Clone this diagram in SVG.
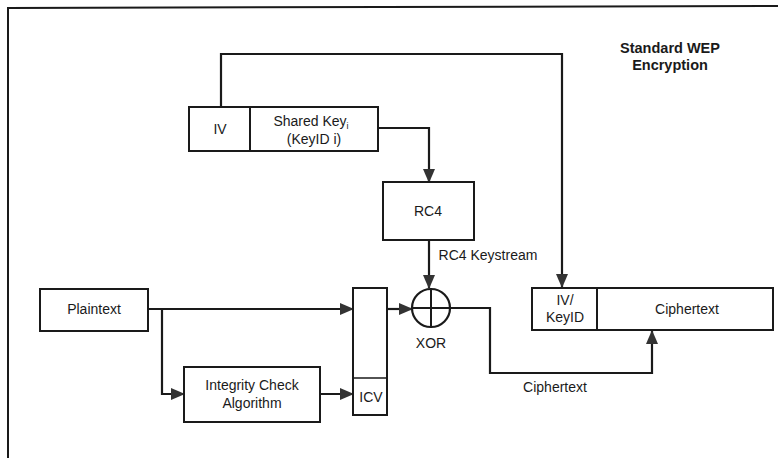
<svg xmlns="http://www.w3.org/2000/svg" width="778" height="458" viewBox="0 0 778 458">
<defs>
<marker id="ah" viewBox="0 0 14 12" refX="13" refY="6" markerWidth="14" markerHeight="12" markerUnits="userSpaceOnUse" orient="auto">
<path d="M0,0 L14,6 L0,12 Z" fill="#333"/>
</marker>
</defs>
<style>
.box{fill:#fff;stroke:#1a1a1a;stroke-width:2}
.ln{fill:none;stroke:#1a1a1a;stroke-width:2.2}
.t{font-family:"Liberation Sans",Arial,sans-serif;font-size:14px;fill:#1a1a1a;text-anchor:middle}
.tb{font-family:"Liberation Sans",Arial,sans-serif;font-size:14.5px;font-weight:bold;fill:#1a1a1a;text-anchor:middle}
</style>
<rect width="778" height="458" fill="#fff"/>
<g id="frame">
<path d="M8,458 L8,8 L778,6" fill="none" stroke="#1a1a1a" stroke-width="2"/>
</g>
<g id="title">
<text class="tb" x="670" y="53">Standard WEP</text>
<text class="tb" x="670" y="70">Encryption</text>
</g>
<g id="connectors">
<path class="ln" d="M221,107 L221,54 L562,54 L562,287" marker-end="url(#ah)"/>
<path class="ln" d="M378,128 L429,128 L429,182" marker-end="url(#ah)"/>
<path class="ln" d="M429,240 L429,288" marker-end="url(#ah)"/>
<path class="ln" d="M148,309 L353,309" marker-end="url(#ah)"/>
<path class="ln" d="M162,309 L162,394 L184,394" marker-end="url(#ah)"/>
<path class="ln" d="M320,394 L353,394" marker-end="url(#ah)"/>
<path class="ln" d="M387,309 L412,309" marker-end="url(#ah)"/>
<path class="ln" d="M450,308 L490,308 L490,373 L652,373 L652,331" marker-end="url(#ah)"/>
<text class="t" x="488" y="260">RC4 Keystream</text>
<text class="t" x="555" y="392">Ciphertext</text>
</g>
<g id="iv-key">
<rect class="box" x="189" y="107" width="189" height="44"/>
<line x1="250" y1="107" x2="250" y2="151" stroke="#1a1a1a" stroke-width="2"/>
<text class="t" x="220" y="134">IV</text>
<text class="t" x="311" y="126">Shared Key<tspan font-size="9" dy="3">i</tspan></text>
<text class="t" x="314" y="144">(KeyID i)</text>
</g>
<g id="rc4">
<rect class="box" x="383" y="182" width="91" height="58"/>
<text class="t" x="428" y="216">RC4</text>
</g>
<g id="xor">
<circle cx="431" cy="308" r="19" fill="#fff" stroke="#1a1a1a" stroke-width="2.2"/>
<line x1="412" y1="308" x2="450" y2="308" stroke="#1a1a1a" stroke-width="2"/>
<line x1="431" y1="289" x2="431" y2="327" stroke="#1a1a1a" stroke-width="2"/>
<text class="t" x="431" y="348">XOR</text>
</g>
<g id="plaintext">
<rect class="box" x="40" y="289" width="108" height="42"/>
<text class="t" x="94" y="314">Plaintext</text>
</g>
<g id="integrity">
<rect class="box" x="184" y="367" width="136" height="55"/>
<text class="t" x="252" y="390">Integrity Check</text>
<text class="t" x="252" y="408">Algorithm</text>
</g>
<g id="icv">
<rect class="box" x="353" y="288" width="34" height="127"/>
<line x1="353" y1="378" x2="387" y2="378" stroke="#1a1a1a" stroke-width="1.5"/>
<text class="t" x="371" y="402">ICV</text>
</g>
<g id="output">
<rect class="box" x="532" y="288" width="241" height="42"/>
<line x1="597" y1="288" x2="597" y2="330" stroke="#1a1a1a" stroke-width="2"/>
<text class="t" x="565" y="305">IV/</text>
<text class="t" x="565" y="322">KeyID</text>
<text class="t" x="687" y="314">Ciphertext</text>
</g>
</svg>
